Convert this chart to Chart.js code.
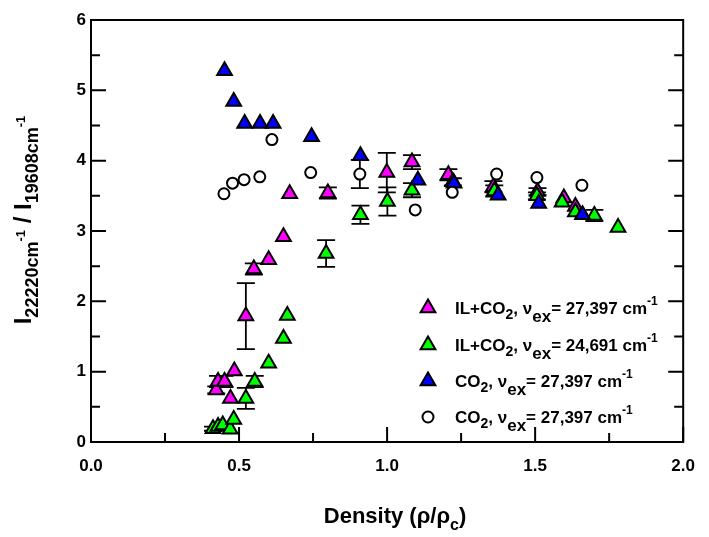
<!DOCTYPE html>
<html lang="en">
  <head>
    <meta charset="UTF-8" />
    <title>Intensity ratio vs reduced density</title>
    <style>
      body {
        margin: 0;
        background: #fff;
      }
      canvas {
        display: block;
      }
    </style>
  </head>
  <body>
    <canvas id="ratioChart" width="709" height="537"></canvas>

    <script src="https://cdn.jsdelivr.net/npm/chart.js"></script>
    <script>
      // IL+CO2, excitation 27,397 cm-1 (magenta)
      const ilHighX = [0.423, 0.429, 0.451, 0.471, 0.484, 0.523, 0.55, 0.6, 0.65, 0.671, 0.8, 0.999, 1.084, 1.207, 1.359, 1.508, 1.597, 1.636];
      const ilHighY = [0.74, 0.86, 0.86, 0.62, 1.01, 1.79, 2.46, 2.59, 2.92, 3.53, 3.54, 3.83, 3.98, 3.8, 3.63, 3.56, 3.47, 3.35];
      const ilHighErr = [0.05, 0.08, 0.08, 0, 0, 0.47, 0.08, 0, 0, 0, 0.08, 0.28, 0.1, 0.08, 0.08, 0.05, 0, 0];

      // IL+CO2, excitation 24,691 cm-1 (green)
      const ilLowX = [0.412, 0.429, 0.445, 0.47, 0.482, 0.523, 0.553, 0.6, 0.65, 0.663, 0.794, 0.91, 1.001, 1.084, 1.222, 1.362, 1.506, 1.591, 1.636, 1.7, 1.78];
      const ilLowY = [0.19, 0.22, 0.24, 0.18, 0.32, 0.62, 0.86, 1.12, 1.47, 1.8, 2.68, 3.23, 3.42, 3.58, 3.7, 3.57, 3.5, 3.41, 3.27, 3.22, 3.05];
      const ilLowErr = [0.03, 0, 0, 0, 0, 0.15, 0.08, 0, 0, 0, 0.19, 0.13, 0.2, 0.1, 0.05, 0.08, 0.05, 0, 0, 0.08, 0];

      // neat CO2, excitation 27,397 cm-1 (blue)
      const co2X = [0.451, 0.482, 0.519, 0.571, 0.615, 0.745, 0.91, 1.104, 1.226, 1.375, 1.512, 1.66];
      const co2Y = [5.28, 4.84, 4.53, 4.53, 4.53, 4.34, 4.07, 3.72, 3.68, 3.51, 3.39, 3.23];

      // neat CO2, second set (open circles)
      const co2bX = [0.449, 0.478, 0.517, 0.57, 0.611, 0.742, 0.908, 1.095, 1.22, 1.37, 1.506, 1.658];
      const co2bY = [3.53, 3.68, 3.73, 3.77, 4.3, 3.83, 3.81, 3.3, 3.55, 3.81, 3.76, 3.65];
      const co2bErr = [0, 0, 0, 0, 0, 0, 0.2, 0, 0, 0, 0, 0];

      const xTicks = [0, 0.5, 1, 1.5, 2];
      const yTicks = [0, 1, 2, 3, 4, 5, 6];

      const FONT = "'Liberation Sans', Arial, sans-serif";

      function toPoints(xs, ys) {
        return xs.map((x, i) => ({ x: x, y: ys[i] }));
      }

      // draws a run of text pieces with sub/superscripts, returns width
      function richText(ctx, parts, x, y, measureOnly) {
        let w = 0;
        parts.forEach((p) => {
          ctx.font = 'bold ' + p.s + 'px ' + FONT;
          if (!measureOnly) ctx.fillText(p.t, x + w, y + (p.dy || 0));
          w += ctx.measureText(p.t).width;
        });
        return w;
      }

      function legendParts(head, value) {
        return [
          { t: head, s: 17 }, { t: '2', s: 14, dy: 5 }, { t: ', \u03bd', s: 17 },
          { t: 'ex', s: 17, dy: 8 }, { t: '= ' + value + ' cm', s: 17 }, { t: '-1', s: 12, dy: -9 },
        ];
      }

      const legendRows = [
        { color: '#ff00ff', style: 'triangle', radius: 8.5, parts: legendParts('IL+CO', '27,397') },
        { color: '#00ff00', style: 'triangle', radius: 8.5, parts: legendParts('IL+CO', '24,691') },
        { color: '#0000ff', style: 'triangle', radius: 8.5, parts: legendParts('CO', '27,397') },
        { color: '#ffffff', style: 'circle', radius: 5.5, parts: legendParts('CO', '27,397') },
      ];

      const errorBars = {
        id: 'errorBars',
        beforeDatasetsDraw(chart) {
          const ctx = chart.ctx;
          const ys = chart.scales.y;
          ctx.save();
          ctx.strokeStyle = '#000';
          ctx.lineWidth = 1.8;
          chart.data.datasets.forEach((ds, i) => {
            if (!ds.errors) return;
            chart.getDatasetMeta(i).data.forEach((pt, j) => {
              const e = ds.errors[j];
              if (!e) return;
              const top = ys.getPixelForValue(ds.data[j].y + e);
              const bot = ys.getPixelForValue(ds.data[j].y - e);
              ctx.beginPath();
              ctx.moveTo(pt.x, top);
              ctx.lineTo(pt.x, bot);
              ctx.moveTo(pt.x - 9, top);
              ctx.lineTo(pt.x + 9, top);
              ctx.moveTo(pt.x - 9, bot);
              ctx.lineTo(pt.x + 9, bot);
              ctx.stroke();
            });
          });
          ctx.restore();
        },
      };

      const frameAndText = {
        id: 'frameAndText',
        afterDraw(chart) {
          const ctx = chart.ctx;
          const a = chart.chartArea;
          const xs = chart.scales.x;
          const ys = chart.scales.y;
          ctx.save();
          ctx.strokeStyle = '#000';
          ctx.lineWidth = 2;
          ctx.strokeRect(a.left, a.top, a.right - a.left, a.bottom - a.top);

          // inward ticks: bottom, left and right
          ctx.beginPath();
          for (let v = 0; v <= 2.0001; v += 0.25) {
            const px = xs.getPixelForValue(v);
            const len = Math.abs(v * 2 - Math.round(v * 2)) < 1e-6 ? 15 : 9;
            ctx.moveTo(px, a.bottom);
            ctx.lineTo(px, a.bottom - len);
          }
          for (let v = 0; v <= 6.0001; v += 0.5) {
            const py = ys.getPixelForValue(v);
            const len = Math.abs(v - Math.round(v)) < 1e-6 ? 15 : 9;
            ctx.moveTo(a.left, py);
            ctx.lineTo(a.left + len, py);
            ctx.moveTo(a.right, py);
            ctx.lineTo(a.right - len, py);
          }
          ctx.stroke();

          // legend
          ctx.fillStyle = '#000';
          ctx.textBaseline = 'alphabetic';
          ctx.textAlign = 'left';
          const rowY = [308, 345, 381, 417];
          legendRows.forEach((row, i) => {
            ctx.save();
            ctx.fillStyle = row.color;
            ctx.strokeStyle = '#000';
            ctx.lineWidth = 2;
            Chart.helpers.drawPoint(ctx, { pointStyle: row.style, radius: row.radius, borderWidth: 2, rotation: 0 }, 428, rowY[i]);
            ctx.restore();
            richText(ctx, row.parts, 455, rowY[i] + 6);
          });

          // x title
          const xParts = [
            { t: 'Density (\u03c1/\u03c1', s: 22 },
            { t: 'c', s: 16, dy: 7 },
            { t: ')', s: 22 },
          ];
          const xw = richText(ctx, xParts, 0, 0, true);
          richText(ctx, xParts, 395 - xw / 2, 523);

          // y title, rotated
          const yParts = [
            { t: 'I', s: 24 },
            { t: '22220cm', s: 18, dy: 7 },
            { t: '-1', s: 13, dy: -6 },
            { t: ' / I', s: 24 },
            { t: '19608cm', s: 18, dy: 7 },
            { t: '-1', s: 13, dy: -6 },
          ];
          const yw = richText(ctx, yParts, 0, 0, true);
          ctx.translate(31, 220);
          ctx.rotate(-Math.PI / 2);
          richText(ctx, yParts, -yw / 2, 0);
          ctx.restore();
        },
      };

      new Chart(document.getElementById('ratioChart').getContext('2d'), {
        type: 'scatter',
        data: {
          datasets: [
            {
              label: 'IL+CO2, 27,397',
              data: toPoints(ilHighX, ilHighY),
              errors: ilHighErr,
              pointStyle: 'triangle',
              pointRadius: 8.5,
              pointHoverRadius: 8.5,
              backgroundColor: '#ff00ff',
              borderColor: '#000',
              borderWidth: 2,
              order: 4,
            },
            {
              label: 'IL+CO2, 24,691',
              data: toPoints(ilLowX, ilLowY),
              errors: ilLowErr,
              pointStyle: 'triangle',
              pointRadius: 8.5,
              pointHoverRadius: 8.5,
              backgroundColor: '#00ff00',
              borderColor: '#000',
              borderWidth: 2,
              order: 3,
            },
            {
              label: 'CO2, 27,397',
              data: toPoints(co2X, co2Y),
              pointStyle: 'triangle',
              pointRadius: 8.5,
              pointHoverRadius: 8.5,
              backgroundColor: '#0000ff',
              borderColor: '#000',
              borderWidth: 2,
              order: 2,
            },
            {
              label: 'CO2 (open)',
              data: toPoints(co2bX, co2bY),
              errors: co2bErr,
              pointStyle: 'circle',
              pointRadius: 5.5,
              pointHoverRadius: 5.5,
              backgroundColor: '#ffffff',
              borderColor: '#000',
              borderWidth: 2,
              order: 1,
            },
          ],
        },
        options: {
          responsive: false,
          animation: false,
          layout: { padding: { left: 0, right: 16, top: 20, bottom: 0 } },
          plugins: {
            legend: { display: false },
            tooltip: { enabled: false },
          },
          scales: {
            x: {
              type: 'linear',
              min: 0,
              max: 2,
              afterBuildTicks: (s) => { s.ticks = xTicks.map((v) => ({ value: v })); },
              afterFit: (s) => { s.height = 95; },
              grid: { display: false, drawTicks: false },
              border: { display: false },
              ticks: {
                padding: 14,
                color: '#000',
                font: { family: FONT, size: 17, weight: 'bold' },
                callback: (v) => v.toFixed(1),
              },
            },
            y: {
              type: 'linear',
              min: 0,
              max: 6,
              afterBuildTicks: (s) => { s.ticks = yTicks.map((v) => ({ value: v })); },
              afterFit: (s) => { s.width = 91; },
              grid: { display: false, drawTicks: false },
              border: { display: false },
              ticks: {
                padding: 5,
                color: '#000',
                font: { family: FONT, size: 17, weight: 'bold' },
                callback: (v) => String(v),
              },
            },
          },
        },
        plugins: [errorBars, frameAndText],
      });
    </script>
  </body>
</html>
